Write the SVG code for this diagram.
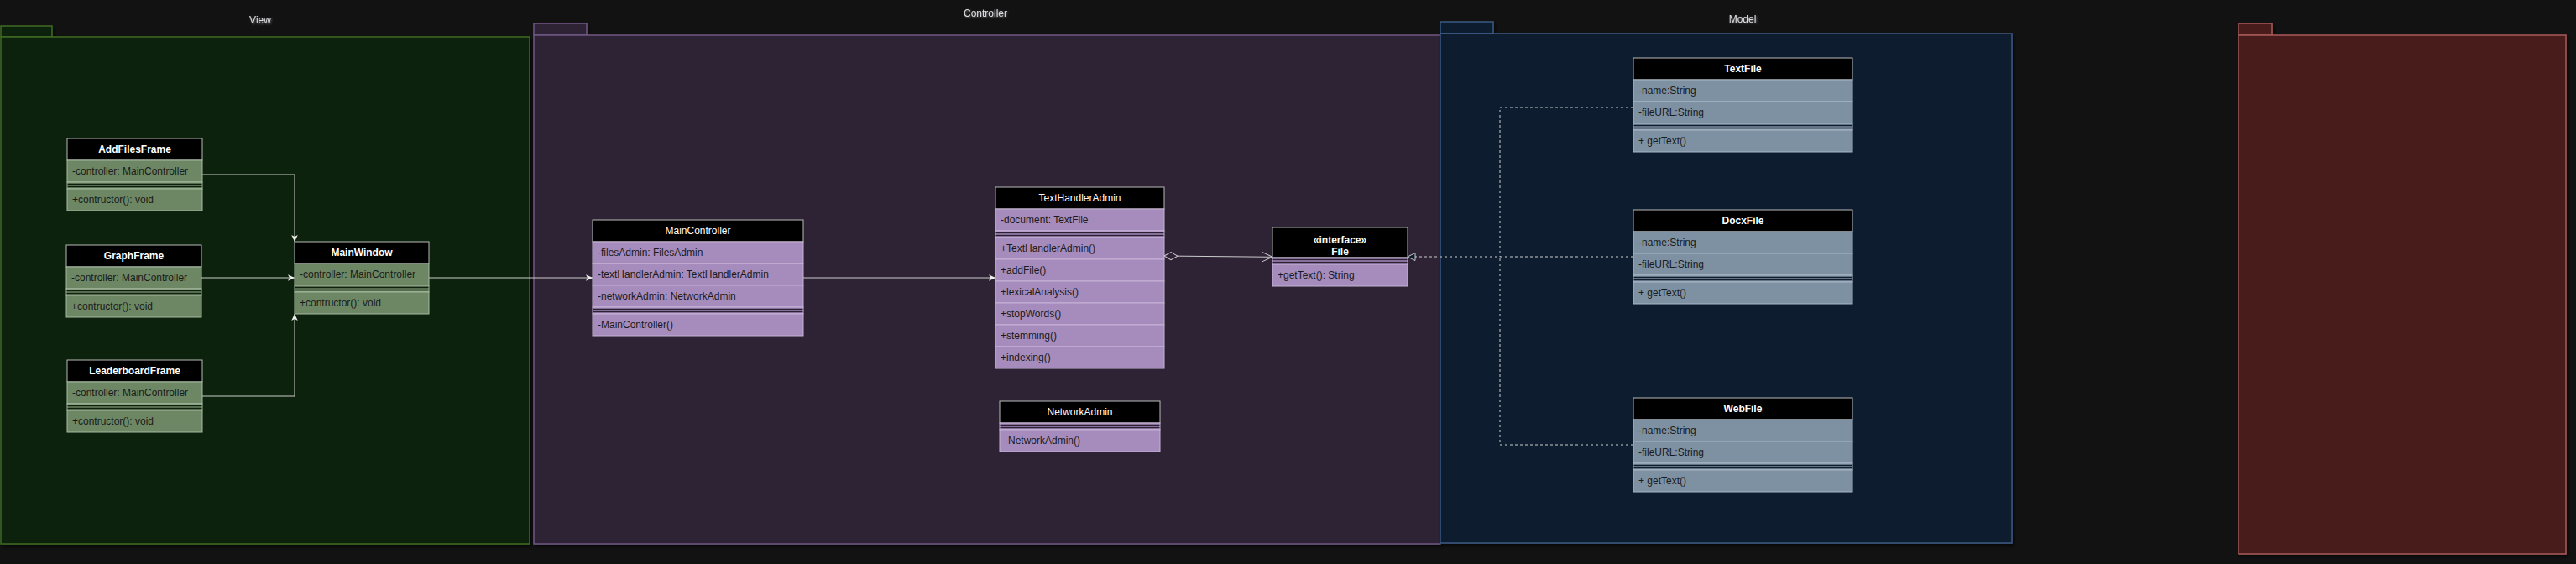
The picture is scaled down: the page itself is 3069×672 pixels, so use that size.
<svg xmlns="http://www.w3.org/2000/svg" width="3069" height="672" viewBox="0 0 3069 672">
<style>
.t{font-family:"Liberation Sans",Arial,Helvetica,sans-serif;font-size:12px;fill:#1b1b1b}
.h{fill:#ffffff;text-anchor:middle;font-weight:bold}
.hn{font-weight:normal}
.lbl{font-family:"Liberation Sans",Arial,Helvetica,sans-serif;font-size:12px;fill:#dedede;text-anchor:middle}
.hdr{fill:#000000;stroke:#b9b9b9;stroke-width:1}
.g{fill:#6d8764;stroke:#a8b9a1;stroke-width:1}
.p{fill:#a68bbd;stroke:#c6b4d6;stroke-width:1}
.b{fill:#7e91a3;stroke:#a9b8c6;stroke-width:1}
.sg{stroke:#10200f;stroke-width:1.6}
.sp{stroke:#2a1f33;stroke-width:1.6}
.sb{stroke:#0f1d2f;stroke-width:1.6}
.con{fill:none;stroke:#cccccc;stroke-width:1}
.dash{fill:none;stroke:#cccccc;stroke-width:1;stroke-dasharray:3 3}
</style>
<defs>
<filter id="shadow" x="-5%" y="-5%" width="110%" height="110%">
<feDropShadow dx="2" dy="3" stdDeviation="2" flood-color="#000000" flood-opacity="0.6"/>
</filter>
<filter id="tshadow" x="-20%" y="-50%" width="140%" height="200%">
<feDropShadow dx="1" dy="1" stdDeviation="1.2" flood-color="#8a8a9a" flood-opacity="0.7"/>
</filter>
<marker id="arrow" markerUnits="userSpaceOnUse" markerWidth="9" markerHeight="9" refX="8" refY="3.75" orient="auto">
<path d="M0,0 L8,3.75 L0,7.5 L2,3.75 Z" fill="#eeeeee" stroke="none"/>
</marker>
<marker id="open" markerUnits="userSpaceOnUse" markerWidth="16" markerHeight="14" refX="14" refY="6.5" orient="auto">
<path d="M1,0.5 L14,6.5 L1,12.5" fill="none" stroke="#cccccc" stroke-width="1"/>
</marker>
<marker id="diamond" markerUnits="userSpaceOnUse" markerWidth="18" markerHeight="11" refX="1" refY="5" orient="auto">
<path d="M1,5 L9,0.5 L17,5 L9,9.5 Z" fill="#2f2236" stroke="#cccccc" stroke-width="1"/>
</marker>
<marker id="tri" markerUnits="userSpaceOnUse" markerWidth="11" markerHeight="11" refX="10" refY="5" orient="auto">
<path d="M1,0.5 L10,5 L1,9.5 Z" fill="#0b1a2d" stroke="#cccccc" stroke-width="1"/>
</marker>
</defs>
<rect x="0" y="0" width="3069" height="672" fill="#121212"/>

<g id="pkg-view" filter="url(#shadow)">
<rect x="1" y="31" width="61" height="13" fill="#0f200e" stroke="#3e6b22" stroke-width="1.5"/>
<rect x="1" y="44" width="630" height="604" fill="#0f200e" stroke="#3e6b22" stroke-width="1.5"/>
</g>
<text class="lbl" x="310" y="28" filter="url(#tshadow)">View</text>

<g id="pkg-controller" filter="url(#shadow)">
<rect x="636" y="28" width="63" height="14" fill="#2f2236" stroke="#6f5884" stroke-width="1.5"/>
<rect x="636" y="42" width="1080" height="606" fill="#2f2236" stroke="#6f5884" stroke-width="1.5"/>
</g>
<text class="lbl" x="1174" y="20" filter="url(#tshadow)">Controller</text>

<g id="pkg-model" filter="url(#shadow)">
<rect x="1716" y="26" width="63" height="14" fill="#0b1a2d" stroke="#3d5a82" stroke-width="1.5"/>
<rect x="1716" y="40" width="681" height="607" fill="#0b1a2d" stroke="#3d5a82" stroke-width="1.5"/>
</g>
<text class="lbl" x="2076" y="27" filter="url(#tshadow)">Model</text>

<g id="pkg-red" filter="url(#shadow)">
<rect x="2667" y="28" width="40" height="14" fill="#4a1f1f" stroke="#a85a58" stroke-width="1.5"/>
<rect x="2667" y="42" width="390" height="618" fill="#4a1f1f" stroke="#a85a58" stroke-width="1.5"/>
</g>

<g id="connectors">
<path class="con" d="M241,208 H351 V288" marker-end="url(#arrow)"/>
<path class="con" d="M240,331 H351" marker-end="url(#arrow)"/>
<path class="con" d="M241,472 H351 V374" marker-end="url(#arrow)"/>
<path class="con" d="M511,331 H706" marker-end="url(#arrow)"/>
<path class="con" d="M957,331 H1186" marker-end="url(#arrow)"/>
<path class="con" d="M1387,305 L1516,306.3" marker-start="url(#diamond)" marker-end="url(#open)"/>
<path class="dash" d="M1946,306 H1677" marker-end="url(#tri)"/>
<path class="dash" d="M1946,128 H1787 V306"/>
<path class="dash" d="M1946,530 H1787 V306"/>
</g>

<g id="AddFilesFrame">
<rect class="hdr" x="80" y="165" width="161" height="26"/>
<text class="t h" x="160.5" y="182">AddFilesFrame</text>
<rect class="g" x="80" y="191" width="161" height="26"/>
<text class="t" x="86" y="208">-controller: MainController</text>
<rect class="g" x="80" y="217" width="161" height="8"/>
<line class="sg" x1="80.5" y1="219.5" x2="240.5" y2="219.5"/><line class="sg" x1="80.5" y1="222.5" x2="240.5" y2="222.5"/>
<rect class="g" x="80" y="225" width="161" height="26"/>
<text class="t" x="86" y="242">+contructor(): void</text>
</g>

<g id="GraphFrame">
<rect class="hdr" x="79" y="292" width="161" height="26"/>
<text class="t h" x="159.5" y="309">GraphFrame</text>
<rect class="g" x="79" y="318" width="161" height="26"/>
<text class="t" x="85" y="335">-controller: MainController</text>
<rect class="g" x="79" y="344" width="161" height="8"/>
<line class="sg" x1="79.5" y1="346.5" x2="239.5" y2="346.5"/><line class="sg" x1="79.5" y1="349.5" x2="239.5" y2="349.5"/>
<rect class="g" x="79" y="352" width="161" height="26"/>
<text class="t" x="85" y="369">+contructor(): void</text>
</g>

<g id="LeaderboardFrame">
<rect class="hdr" x="80" y="429" width="161" height="26"/>
<text class="t h" x="160.5" y="446">LeaderboardFrame</text>
<rect class="g" x="80" y="455" width="161" height="26"/>
<text class="t" x="86" y="472">-controller: MainController</text>
<rect class="g" x="80" y="481" width="161" height="8"/>
<line class="sg" x1="80.5" y1="483.5" x2="240.5" y2="483.5"/><line class="sg" x1="80.5" y1="486.5" x2="240.5" y2="486.5"/>
<rect class="g" x="80" y="489" width="161" height="26"/>
<text class="t" x="86" y="506">+contructor(): void</text>
</g>

<g id="MainWindow">
<rect class="hdr" x="351" y="288" width="160" height="26"/>
<text class="t h" x="431" y="305">MainWindow</text>
<rect class="g" x="351" y="314" width="160" height="26"/>
<text class="t" x="357" y="331">-controller: MainController</text>
<rect class="g" x="351" y="340" width="160" height="8"/>
<line class="sg" x1="351.5" y1="342.5" x2="510.5" y2="342.5"/><line class="sg" x1="351.5" y1="345.5" x2="510.5" y2="345.5"/>
<rect class="g" x="351" y="348" width="160" height="26"/>
<text class="t" x="357" y="365">+contructor(): void</text>
</g>

<g id="MainController">
<rect class="hdr" x="706" y="262" width="251" height="26"/>
<text class="t h hn" x="831.5" y="279">MainController</text>
<rect class="p" x="706" y="288" width="251" height="26"/>
<text class="t" x="712" y="305">-filesAdmin: FilesAdmin</text>
<rect class="p" x="706" y="314" width="251" height="26"/>
<text class="t" x="712" y="331">-textHandlerAdmin: TextHandlerAdmin</text>
<rect class="p" x="706" y="340" width="251" height="26"/>
<text class="t" x="712" y="357">-networkAdmin: NetworkAdmin</text>
<rect class="p" x="706" y="366" width="251" height="8"/>
<line class="sp" x1="706.5" y1="368.5" x2="956.5" y2="368.5"/><line class="sp" x1="706.5" y1="371.5" x2="956.5" y2="371.5"/>
<rect class="p" x="706" y="374" width="251" height="26"/>
<text class="t" x="712" y="391">-MainController()</text>
</g>

<g id="TextHandlerAdmin">
<rect class="hdr" x="1186" y="223" width="201" height="26"/>
<text class="t h hn" x="1286.5" y="240">TextHandlerAdmin</text>
<rect class="p" x="1186" y="249" width="201" height="26"/>
<text class="t" x="1192" y="266">-document: TextFile</text>
<rect class="p" x="1186" y="275" width="201" height="8"/>
<line class="sp" x1="1186.5" y1="277.5" x2="1386.5" y2="277.5"/><line class="sp" x1="1186.5" y1="280.5" x2="1386.5" y2="280.5"/>
<rect class="p" x="1186" y="283" width="201" height="26"/>
<text class="t" x="1192" y="300">+TextHandlerAdmin()</text>
<rect class="p" x="1186" y="309" width="201" height="26"/>
<text class="t" x="1192" y="326">+addFile()</text>
<rect class="p" x="1186" y="335" width="201" height="26"/>
<text class="t" x="1192" y="352">+lexicalAnalysis()</text>
<rect class="p" x="1186" y="361" width="201" height="26"/>
<text class="t" x="1192" y="378">+stopWords()</text>
<rect class="p" x="1186" y="387" width="201" height="26"/>
<text class="t" x="1192" y="404">+stemming()</text>
<rect class="p" x="1186" y="413" width="201" height="26"/>
<text class="t" x="1192" y="430">+indexing()</text>
</g>

<g id="NetworkAdmin">
<rect class="hdr" x="1191" y="478" width="191" height="26"/>
<text class="t h hn" x="1286.5" y="495">NetworkAdmin</text>
<rect class="p" x="1191" y="504" width="191" height="8"/>
<line class="sp" x1="1191.5" y1="506.5" x2="1381.5" y2="506.5"/><line class="sp" x1="1191.5" y1="509.5" x2="1381.5" y2="509.5"/>
<rect class="p" x="1191" y="512" width="191" height="26"/>
<text class="t" x="1197" y="529">-NetworkAdmin()</text>
</g>

<g id="File">
<rect class="hdr" x="1516" y="271" width="161" height="36"/>
<text class="t h" x="1596.5" y="289.5">«interface»</text>
<text class="t h" x="1596.5" y="304">File</text>
<rect class="p" x="1516" y="307" width="161" height="8"/>
<line class="sp" x1="1516.5" y1="309.5" x2="1676.5" y2="309.5"/><line class="sp" x1="1516.5" y1="312.5" x2="1676.5" y2="312.5"/>
<rect class="p" x="1516" y="315" width="161" height="26"/>
<text class="t" x="1522" y="332">+getText(): String</text>
</g>

<g id="TextFile">
<rect class="hdr" x="1946" y="69" width="261" height="26"/>
<text class="t h" x="2076.5" y="86">TextFile</text>
<rect class="b" x="1946" y="95" width="261" height="26"/>
<text class="t" x="1952" y="112">-name:String</text>
<rect class="b" x="1946" y="121" width="261" height="26"/>
<text class="t" x="1952" y="138">-fileURL:String</text>
<rect class="b" x="1946" y="147" width="261" height="8"/>
<line class="sb" x1="1946.5" y1="149.5" x2="2206.5" y2="149.5"/><line class="sb" x1="1946.5" y1="152.5" x2="2206.5" y2="152.5"/>
<rect class="b" x="1946" y="155" width="261" height="26"/>
<text class="t" x="1952" y="172">+ getText()</text>
</g>

<g id="DocxFile">
<rect class="hdr" x="1946" y="250" width="261" height="26"/>
<text class="t h" x="2076.5" y="267">DocxFile</text>
<rect class="b" x="1946" y="276" width="261" height="26"/>
<text class="t" x="1952" y="293">-name:String</text>
<rect class="b" x="1946" y="302" width="261" height="26"/>
<text class="t" x="1952" y="319">-fileURL:String</text>
<rect class="b" x="1946" y="328" width="261" height="8"/>
<line class="sb" x1="1946.5" y1="330.5" x2="2206.5" y2="330.5"/><line class="sb" x1="1946.5" y1="333.5" x2="2206.5" y2="333.5"/>
<rect class="b" x="1946" y="336" width="261" height="26"/>
<text class="t" x="1952" y="353">+ getText()</text>
</g>

<g id="WebFile">
<rect class="hdr" x="1946" y="474" width="261" height="26"/>
<text class="t h" x="2076.5" y="491">WebFile</text>
<rect class="b" x="1946" y="500" width="261" height="26"/>
<text class="t" x="1952" y="517">-name:String</text>
<rect class="b" x="1946" y="526" width="261" height="26"/>
<text class="t" x="1952" y="543">-fileURL:String</text>
<rect class="b" x="1946" y="552" width="261" height="8"/>
<line class="sb" x1="1946.5" y1="554.5" x2="2206.5" y2="554.5"/><line class="sb" x1="1946.5" y1="557.5" x2="2206.5" y2="557.5"/>
<rect class="b" x="1946" y="560" width="261" height="26"/>
<text class="t" x="1952" y="577">+ getText()</text>
</g>
</svg>
